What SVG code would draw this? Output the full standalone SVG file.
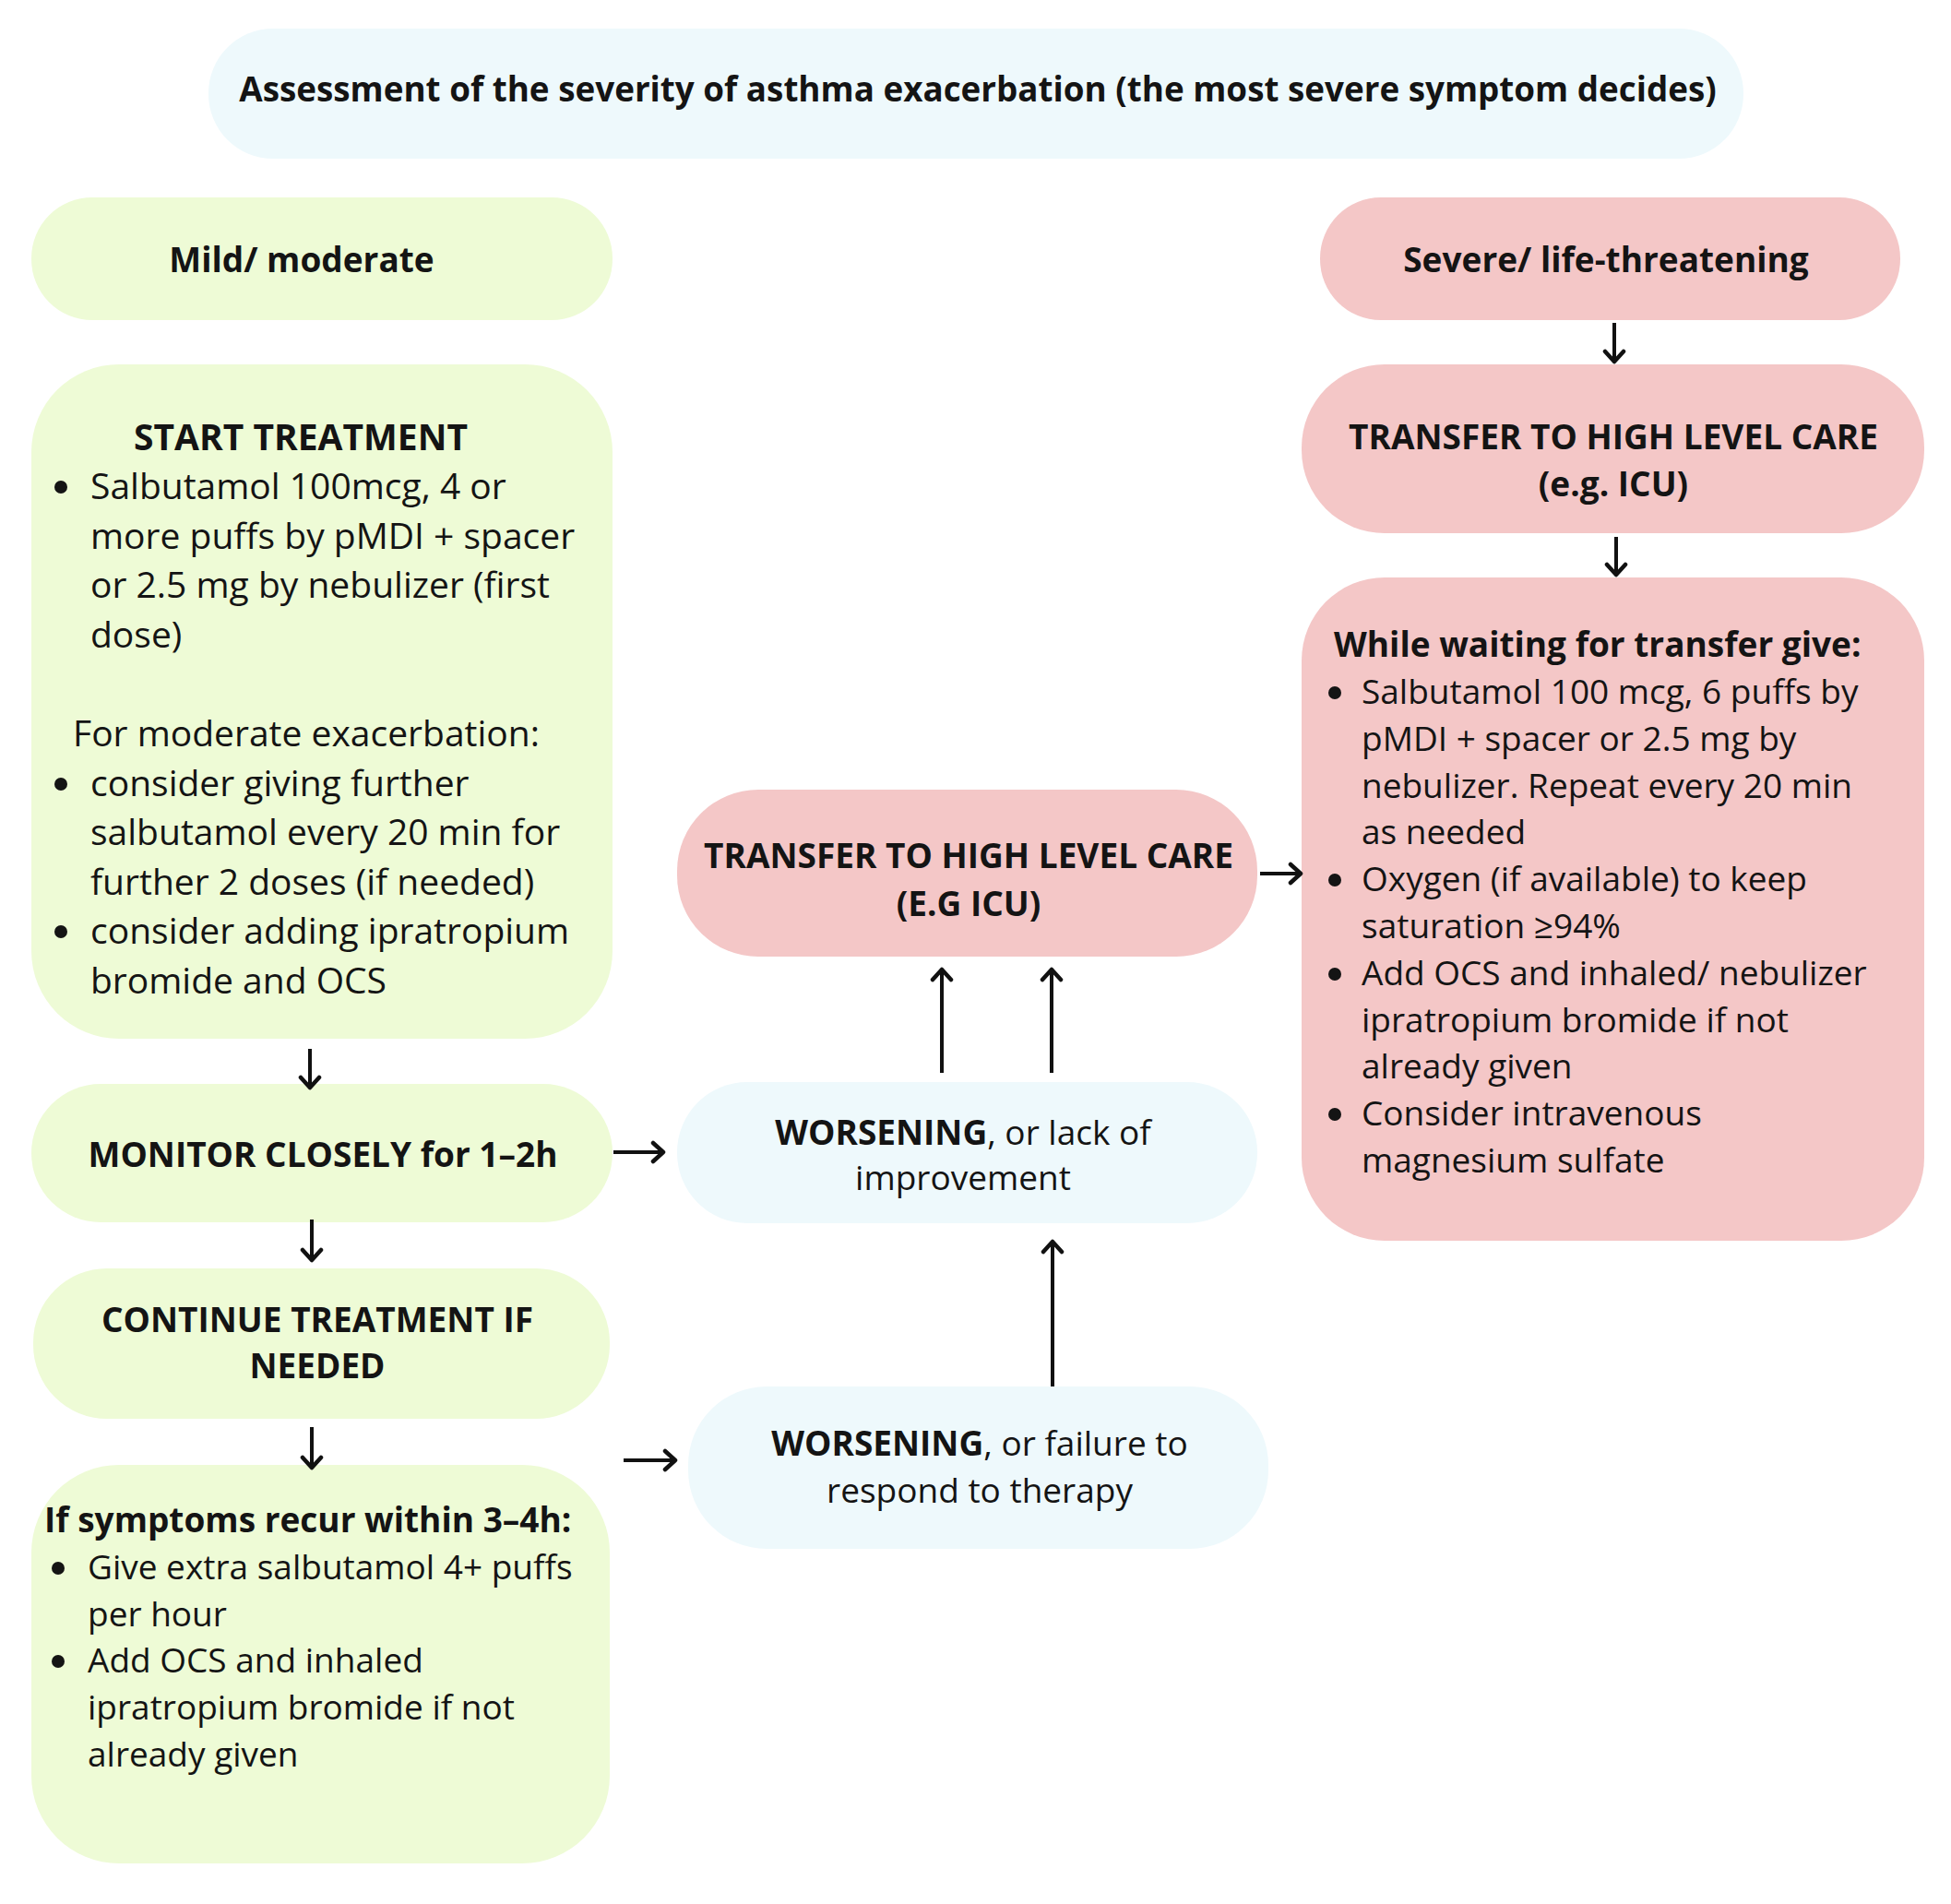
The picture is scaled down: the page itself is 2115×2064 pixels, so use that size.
<svg xmlns="http://www.w3.org/2000/svg" width="2115" height="2064" viewBox="0 0 2115 2064">
<style>
  text { font-family: "Open Sans", "Noto Sans", "Liberation Sans", sans-serif; fill: #141414; }
  .b { font-weight: 700; }
  .t37 { font-size: 37px; }
  .t39 { font-size: 39px; }
  .h { font-size: 37px; font-weight: 700; }
  .c { text-anchor: middle; }
  .dot { fill: #141414; }
  .green { fill: #EEFBD6; }
  .pink { fill: #F4C7C7; }
  .cyan { fill: #EEF9FC; }
  .conn { stroke: #111; stroke-width: 4; fill: none; }
</style>
<defs>
  <marker id="ah" markerUnits="userSpaceOnUse" markerWidth="24" markerHeight="28" refX="16" refY="13" orient="auto">
    <path d="M4,3 L15,13 L4,23" fill="none" stroke="#111" stroke-width="4.5" stroke-linecap="round" stroke-linejoin="round"/>
  </marker>
</defs>
<rect width="2115" height="2064" fill="#ffffff"/>

<g id="title">
  <rect class="cyan" x="226" y="31" width="1664" height="141" rx="70" ry="70"/>
  <text class="h c" x="1060" y="110" style="font-size:36.8px">Assessment of the severity of asthma exacerbation (the most severe symptom decides)</text>
</g>

<g id="mild">
  <rect class="green" x="34" y="214" width="630" height="133" rx="66" ry="66"/>
  <text class="h c" x="327" y="295">Mild/ moderate</text>
</g>

<g id="severe">
  <rect class="pink" x="1431" y="214" width="629" height="133" rx="66" ry="66"/>
  <text class="h c" x="1741" y="295">Severe/ life-threatening</text>
</g>

<g id="start-treatment">
  <rect class="green" x="34" y="395" width="630" height="731" rx="95" ry="95"/>
  <text class="t39 b c" x="326" y="488">START TREATMENT</text>
  <circle class="dot" cx="66" cy="528" r="7"/>
  <text class="t39" x="98" y="541">Salbutamol 100mcg, 4 or</text>
  <text class="t39" x="98" y="595">more puffs by pMDI + spacer</text>
  <text class="t39" x="98" y="648">or 2.5 mg by nebulizer (first</text>
  <text class="t39" x="98" y="702">dose)</text>
  <text class="t39" x="79" y="809">For moderate exacerbation:</text>
  <circle class="dot" cx="66" cy="850" r="7"/>
  <text class="t39" x="98" y="863">consider giving further</text>
  <text class="t39" x="98" y="916">salbutamol every 20 min for</text>
  <text class="t39" x="98" y="970">further 2 doses (if needed)</text>
  <circle class="dot" cx="66" cy="1010" r="7"/>
  <text class="t39" x="98" y="1023">consider adding ipratropium</text>
  <text class="t39" x="98" y="1077">bromide and OCS</text>
</g>

<g id="monitor">
  <rect class="green" x="34" y="1175" width="630" height="150" rx="75" ry="75"/>
  <text class="h c" x="350" y="1265">MONITOR CLOSELY for 1–2h</text>
</g>

<g id="continue">
  <rect class="green" x="36" y="1375" width="625" height="163" rx="80" ry="80"/>
  <text class="h c" x="344" y="1444">CONTINUE TREATMENT IF</text>
  <text class="h c" x="344" y="1494">NEEDED</text>
</g>

<g id="recur">
  <rect class="green" x="34" y="1588" width="627" height="432" rx="95" ry="95"/>
  <text class="t37 b" x="48" y="1661">If symptoms recur within 3–4h:</text>
  <circle class="dot" cx="63" cy="1700" r="7"/>
  <text class="t37" x="95" y="1712">Give extra salbutamol 4+ puffs</text>
  <text class="t37" x="95" y="1763">per hour</text>
  <circle class="dot" cx="63" cy="1801" r="7"/>
  <text class="t37" x="95" y="1813">Add OCS and inhaled</text>
  <text class="t37" x="95" y="1864">ipratropium bromide if not</text>
  <text class="t37" x="95" y="1915">already given</text>
</g>

<g id="transfer-mid">
  <rect class="pink" x="734" y="856" width="629" height="181" rx="88" ry="88"/>
  <text class="h c" x="1050" y="941">TRANSFER TO HIGH LEVEL CARE</text>
  <text class="h c" x="1050" y="993">(E.G ICU)</text>
</g>

<g id="worsening-1">
  <rect class="cyan" x="734" y="1173" width="629" height="153" rx="76" ry="76"/>
  <text class="t37 c" x="1044" y="1241"><tspan class="b">WORSENING</tspan>, or lack of</text>
  <text class="t37 c" x="1044" y="1290">improvement</text>
</g>

<g id="worsening-2">
  <rect class="cyan" x="746" y="1503" width="629" height="176" rx="85" ry="85"/>
  <text class="t37 c" x="1062" y="1578"><tspan class="b">WORSENING</tspan>, or failure to</text>
  <text class="t37 c" x="1062" y="1629">respond to therapy</text>
</g>

<g id="transfer-right">
  <rect class="pink" x="1411" y="395" width="675" height="183" rx="90" ry="90"/>
  <text class="h c" x="1749" y="487">TRANSFER TO HIGH LEVEL CARE</text>
  <text class="h c" x="1749" y="538">(e.g. ICU)</text>
</g>

<g id="while-waiting">
  <rect class="pink" x="1411" y="626" width="675" height="719" rx="90" ry="90"/>
  <text class="t37 b" x="1446" y="712">While waiting for transfer give:</text>
  <circle class="dot" cx="1447" cy="751" r="7"/>
  <text class="t37" x="1476" y="763">Salbutamol 100 mcg, 6 puffs by</text>
  <text class="t37" x="1476" y="814">pMDI + spacer or 2.5 mg by</text>
  <text class="t37" x="1476" y="865">nebulizer. Repeat every 20 min</text>
  <text class="t37" x="1476" y="915">as needed</text>
  <circle class="dot" cx="1447" cy="954" r="7"/>
  <text class="t37" x="1476" y="966">Oxygen (if available) to keep</text>
  <text class="t37" x="1476" y="1017">saturation ≥94%</text>
  <circle class="dot" cx="1447" cy="1056" r="7"/>
  <text class="t37" x="1476" y="1068">Add OCS and inhaled/ nebulizer</text>
  <text class="t37" x="1476" y="1119">ipratropium bromide if not</text>
  <text class="t37" x="1476" y="1169">already given</text>
  <circle class="dot" cx="1447" cy="1208" r="7"/>
  <text class="t37" x="1476" y="1220">Consider intravenous</text>
  <text class="t37" x="1476" y="1271">magnesium sulfate</text>
</g>

<g id="connectors">
  <line class="conn" x1="1750" y1="350" x2="1750" y2="393" marker-end="url(#ah)"/>
  <line class="conn" x1="1752" y1="582" x2="1752" y2="624" marker-end="url(#ah)"/>
  <line class="conn" x1="336" y1="1137" x2="336" y2="1180" marker-end="url(#ah)"/>
  <line class="conn" x1="338" y1="1322" x2="338" y2="1367" marker-end="url(#ah)"/>
  <line class="conn" x1="338" y1="1547" x2="338" y2="1592" marker-end="url(#ah)"/>
  <line class="conn" x1="665" y1="1249" x2="720" y2="1249" marker-end="url(#ah)"/>
  <line class="conn" x1="676" y1="1583" x2="733" y2="1583" marker-end="url(#ah)"/>
  <line class="conn" x1="1366" y1="947" x2="1411" y2="947" marker-end="url(#ah)"/>
  <line class="conn" x1="1021" y1="1163" x2="1021" y2="1050" marker-end="url(#ah)"/>
  <line class="conn" x1="1140" y1="1163" x2="1140" y2="1050" marker-end="url(#ah)"/>
  <line class="conn" x1="1141" y1="1503" x2="1141" y2="1345" marker-end="url(#ah)"/>
</g>
</svg>
